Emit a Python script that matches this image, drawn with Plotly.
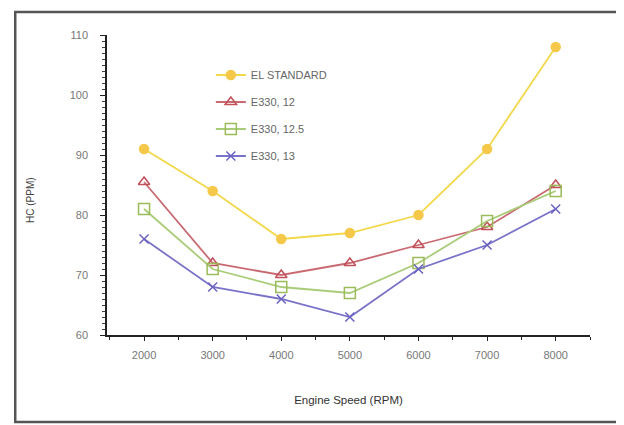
import plotly.graph_objects as go

speeds = [2000, 3000, 4000, 5000, 6000, 7000, 8000]
series_names = ["EL STANDARD", "E330, 12", "E330, 12.5", "E330, 13"]
hc_standard = [91, 84, 76, 77, 80, 91, 108]
hc_e330_12 = [85.5, 72, 70, 72, 75, 78, 85]
hc_e330_125 = [81, 71, 68, 67, 72, 79, 84]
hc_e330_13 = [76, 68, 66, 63, 71, 75, 81]

values = [hc_standard, hc_e330_12, hc_e330_125, hc_e330_13]
line_colors = ["#f2d84a", "#c96a72", "#a9cc78", "#7a72c8"]
marker_colors = ["#f5c84a", "#c0505a", "#9bbb59", "#6a62c0"]
symbols = ["circle", "triangle-up-open", "square-open", "x-thin-open"]
sizes = [9, 10, 11, 9]

fig = go.Figure()
for i, (name, vals) in enumerate(zip(series_names, values)):
    mk = dict(symbol=symbols[i], size=sizes[i], color=marker_colors[i],
              line=dict(color=marker_colors[i], width=1.5))
    fig.add_trace(go.Scatter(
        x=speeds, y=vals, name=name, mode="lines+markers",
        line=dict(color=line_colors[i], width=1.8),
        marker=mk, legendgroup=f"g{i}",
    ))

fig.update_layout(
    width=616, height=417,
    margin=dict(l=99, r=34, t=27, b=90),
    paper_bgcolor="white", plot_bgcolor="white",
    font=dict(family="Liberation Sans, Arial", size=10, color="#555555"),
    showlegend=True,
    legend=dict(x=0.215, y=0.915, xanchor="left", yanchor="top",
                bgcolor="rgba(0,0,0,0)", font=dict(size=11, color="#666666"),
                tracegroupgap=8, traceorder="grouped", itemwidth=30),
    xaxis=dict(range=[1460, 8500], tickvals=speeds, ticktext=[str(s) for s in speeds],
               showgrid=False, zeroline=False, showline=True, linecolor="#222222",
               linewidth=1.5, ticks="outside", ticklen=4, tickcolor="#222222",
               minor=dict(dtick=500, tick0=1500, ticks="outside", ticklen=3, tickcolor="#222222"),
               tickfont=dict(size=11, color="#777777"), ticklabelstandoff=5,
               title=dict(text="Engine Speed (RPM)", font=dict(size=11.5, color="#333333"), standoff=36)),
    yaxis=dict(range=[60, 110], dtick=10, showgrid=False, zeroline=False, showline=True,
               linecolor="#222222", linewidth=1.5, ticks="outside", ticklen=5, tickcolor="#222222",
               minor=dict(dtick=1, ticks="outside", ticklen=3, tickcolor="#444444"),
               tickfont=dict(size=11, color="#777777"), ticklabelstandoff=10),
)

fig.add_annotation(text="HC (PPM)", xref="paper", yref="paper", x=-0.175, y=0.45,
                   textangle=-90, showarrow=False, font=dict(size=10, color="#444444"))

# outer frame
fig.add_shape(type="rect", xref="paper", yref="paper", x0=-0.19, x1=1.058, y0=-0.29, y1=1.077,
              line=dict(color="#555555", width=2.5))

fig.write_html("out.html")
